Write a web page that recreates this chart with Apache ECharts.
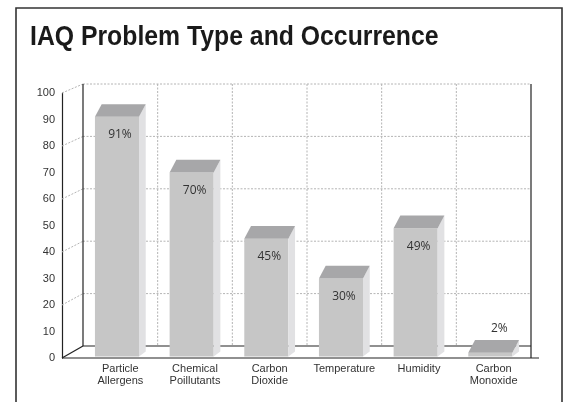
<!DOCTYPE html>
<html>
<head>
<meta charset="utf-8">
<script src="https://cdn.jsdelivr.net/npm/echarts@6/dist/echarts.min.js"></script>
<style>
  html, body { margin: 0; padding: 0; background: #fff; }
  #chart { width: 564px; height: 402px; }
</style>
</head>
<body>
<div id="chart"></div>
<script>
// Problem categories and how often each one occurs (percent)
const categories = ['Particle\nAllergens', 'Chemical\nPoillutants', 'Carbon\nDioxide', 'Temperature', 'Humidity', 'Carbon\nMonoxide'];
const occurrence = [91, 70, 45, 30, 49, 2];
// Levels that get a dotted line on the back wall
const wallLevels = [20, 40, 60, 80, 100];

const DEPTH = 21;            // horizontal offset between front axis and back wall
const INK = '#222';
const DOT = '#b4b4b4';

const chart = echarts.init(document.getElementById('chart'), null, { renderer: 'canvas' });

// Back wall, floor and the slanted tick lines of the pseudo-3D box
function renderWalls(params, api) {
  const cs = params.coordSys;
  const gx = cs.x, gw = cs.width;
  const front = v => api.coord([0, v])[1];
  const back = v => front(v) - 12 + 3 * v / 100;
  const axisX = gx - DEPTH;
  const band = api.size([1, 0])[0];
  const kids = [];
  const line = (x1, y1, x2, y2, dotted) => kids.push({
    type: 'line',
    shape: { x1, y1, x2, y2 },
    style: dotted ? { stroke: DOT, lineWidth: 1, lineDash: [2, 1.5] } : { stroke: INK, lineWidth: 1.2 }
  });
  wallLevels.forEach(v => {
    line(gx, back(v), gx + gw, back(v), true);
    line(axisX, front(v), gx, back(v), true);
  });
  for (let k = 1; k < categories.length; k++) {
    const x = api.coord([k, 0])[0] - band / 2;
    line(x, back(100), x, back(0), true);
  }
  line(gx, back(100), gx, back(0), false);
  line(gx, back(0), gx + gw, back(0), false);
  line(gx + gw, back(100), gx + gw, front(0), false);
  line(axisX, front(0), gx, back(0), false);
  line(axisX, front(0), gx + gw + 8, front(0), false);
  return { type: 'group', children: kids };
}

// One shaded block per category with its percentage label
function renderBar(params, api) {
  const i = api.value(0), v = api.value(1);
  const top = api.coord([i, v]);
  const base = api.coord([i, 0]);
  const band = api.size([1, 0])[0];
  const fw = band * 0.59, dx = band * 0.09, dy = -band * 0.17;
  const left = top[0] - (fw + dx) / 2, right = left + fw;
  const ty = top[1], by = base[1] - 1.5;
  const small = v < 10;
  return {
    type: 'group',
    children: [
      { type: 'rect', shape: { x: left, y: ty, width: fw, height: by - ty }, style: { fill: '#c6c6c6' } },
      { type: 'polygon', shape: { points: [[right, ty], [right + dx, ty + dy], [right + dx, by - 5], [right, by]] }, style: { fill: '#e1e1e3' } },
      { type: 'polygon', shape: { points: [[left, ty], [right, ty], [right + dx, ty + dy], [left + dx, ty + dy]] }, style: { fill: '#a7a7a9' } },
      {
        type: 'text',
        style: {
          text: v + '%',
          x: small ? left + fw / 2 + 9 : left + fw / 2 + 3,
          y: small ? ty + dy - 11 : ty + 18,
          align: 'center', verticalAlign: 'middle',
          font: '12px "Open Sans", sans-serif',
          fill: '#333'
        }
      }
    ]
  };
}

chart.setOption({
  animation: false,
  backgroundColor: '#fff',
  graphic: [
    {
      type: 'rect', z: -1,
      shape: { x: 16, y: 8, width: 546, height: 420 },
      style: { fill: 'none', stroke: '#333', lineWidth: 1.6 }
    },
    {
      // condensed bold heading
      type: 'text',
      x: 30, y: 37,
      scaleX: 0.885,
      style: {
        text: 'IAQ Problem Type and Occurrence',
        font: 'bold 28px "Liberation Sans", Arial, sans-serif',
        fill: '#1a1a1a',
        align: 'left', verticalAlign: 'middle'
      }
    }
  ],
  grid: { left: 83, right: 33, top: 93, bottom: 44 },
  xAxis: {
    type: 'category',
    data: categories,
    axisLine: { show: false },
    axisTick: { show: false },
    splitLine: { show: false },
    axisLabel: { margin: 5, fontSize: 11, lineHeight: 12, color: '#333', fontFamily: '"Liberation Sans", Arial, sans-serif', interval: 0 }
  },
  yAxis: {
    type: 'value', min: 0, max: 100, interval: 10,
    offset: DEPTH,
    axisLine: { show: true, lineStyle: { color: INK, width: 1.2 } },
    axisTick: { show: false },
    splitLine: { show: false },
    axisLabel: { margin: 7, fontSize: 11, color: '#333', fontFamily: '"Liberation Sans", Arial, sans-serif' }
  },
  series: [
    { type: 'custom', renderItem: renderWalls, data: [[0, 0]], z: 1, silent: true },
    { type: 'custom', renderItem: renderBar, data: occurrence.map((v, i) => [i, v]), z: 2 }
  ]
});
</script>
</body>
</html>
